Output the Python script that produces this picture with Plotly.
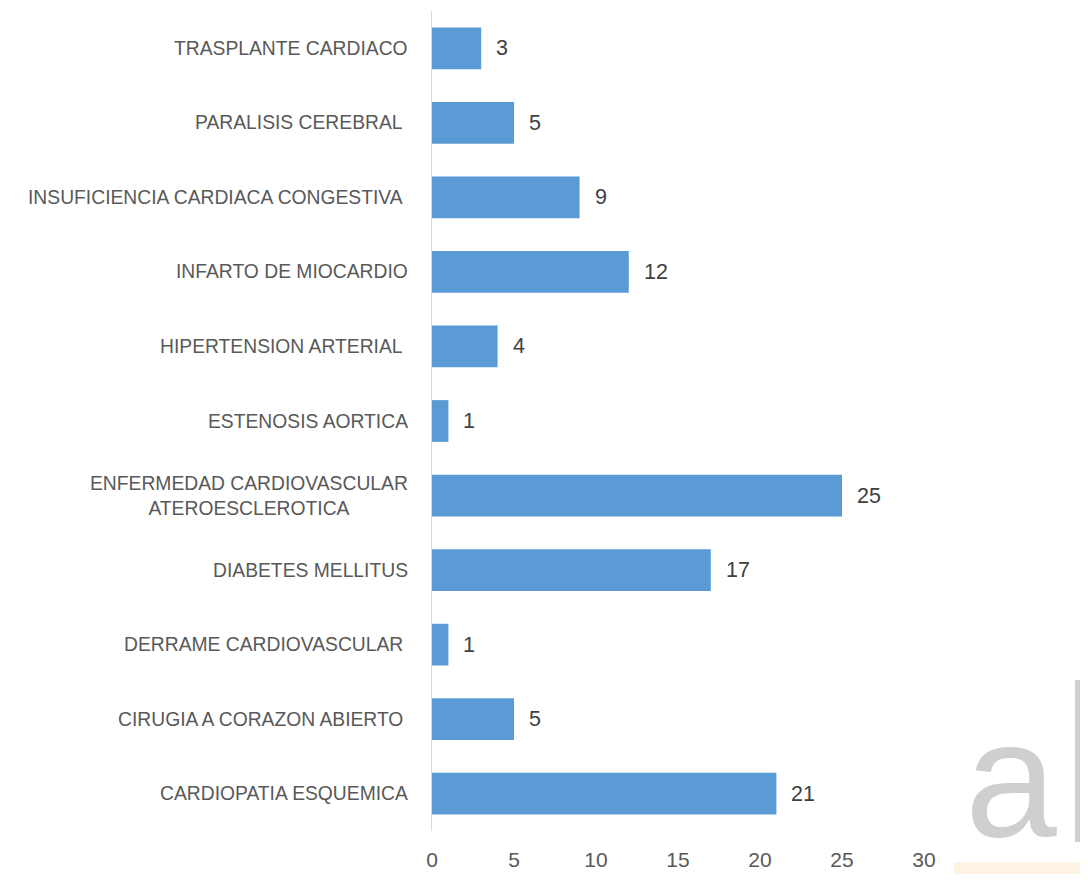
import plotly.graph_objects as go

categories = [
    "CARDIOPATIA ESQUEMICA",
    "CIRUGIA A CORAZON ABIERTO ",
    "DERRAME CARDIOVASCULAR ",
    "DIABETES MELLITUS",
    "ENFERMEDAD CARDIOVASCULAR<br>ATEROESCLEROTICA",
    "ESTENOSIS AORTICA",
    "HIPERTENSION ARTERIAL ",
    "INFARTO DE MIOCARDIO",
    "INSUFICIENCIA CARDIACA CONGESTIVA ",
    "PARALISIS CEREBRAL ",
    "TRASPLANTE CARDIACO",
]
values = [21, 5, 1, 17, 25, 1, 4, 12, 9, 5, 3]
x_ticks = [0, 5, 10, 15, 20, 25, 30]

label_font = "Liberation Sans, Arial, sans-serif"
num_font = "Liberation Sans, Arial, sans-serif"
label_color = "#595959"

fig = go.Figure(
    go.Bar(
        y=categories,
        x=values,
        orientation="h",
        marker=dict(color="#5B9BD5", line=dict(width=0)),
        hoverinfo="x+y",
    )
)

annotations = []
# category labels (centered multi-line, right anchored)
for cat in categories:
    annotations.append(dict(
        x=0, xref="x", y=cat, yref="y",
        text=cat.rstrip(), xanchor="right", yanchor="middle", align="center",
        xshift=-22 - (5 if cat.endswith(" ") else 0),
        showarrow=False,
        font=dict(family=label_font, size=19.3, color=label_color),
    ))
# value labels
for cat, v in zip(categories, values):
    annotations.append(dict(
        x=v, xref="x", y=cat, yref="y",
        text=str(v), xanchor="left", yanchor="middle",
        xshift=13, showarrow=False,
        font=dict(family=num_font, size=21.5, color="#404040"),
    ))
# faint watermark letter from the source image
annotations.append(dict(
    x=1.177, xref="paper", y=-0.0512, yref="paper",
    text="a", xanchor="center", yanchor="bottom", showarrow=False,
    font=dict(family=num_font, size=165, color="#CFCFCF"),
))

shapes = [
    # watermark "l" stroke
    dict(type="rect", xref="paper", yref="paper", x0=1.307, x1=1.36,
         y0=-0.0134, y1=0.184, fillcolor="#CFCFCF", line=dict(width=0), layer="below"),
    # faint orange band at bottom right
    dict(type="rect", xref="paper", yref="paper", x0=1.061, x1=1.36,
         y0=-0.06, y1=-0.038, fillcolor="#FEF3E2", line=dict(width=0), layer="below"),
]

fig.update_layout(
    width=1072,
    height=866,
    margin=dict(l=424, r=156, t=3, b=43, autoexpand=False),
    paper_bgcolor="white",
    plot_bgcolor="white",
    bargap=0.44,
    showlegend=False,
    annotations=annotations,
    shapes=shapes,
    font=dict(family=num_font, color=label_color, size=21),
)
fig.update_xaxes(
    range=[0, 30],
    tickvals=x_ticks,
    showgrid=False,
    zeroline=False,
    showline=False,
    tickfont=dict(family=num_font, size=21, color=label_color),
    ticks="",
    ticklabelstandoff=14,
)
fig.update_yaxes(
    showgrid=False,
    zeroline=False,
    showline=True,
    linecolor="#D9D9D9",
    linewidth=1,
    ticks="",
    showticklabels=False,
)

fig.write_html("out.html")
